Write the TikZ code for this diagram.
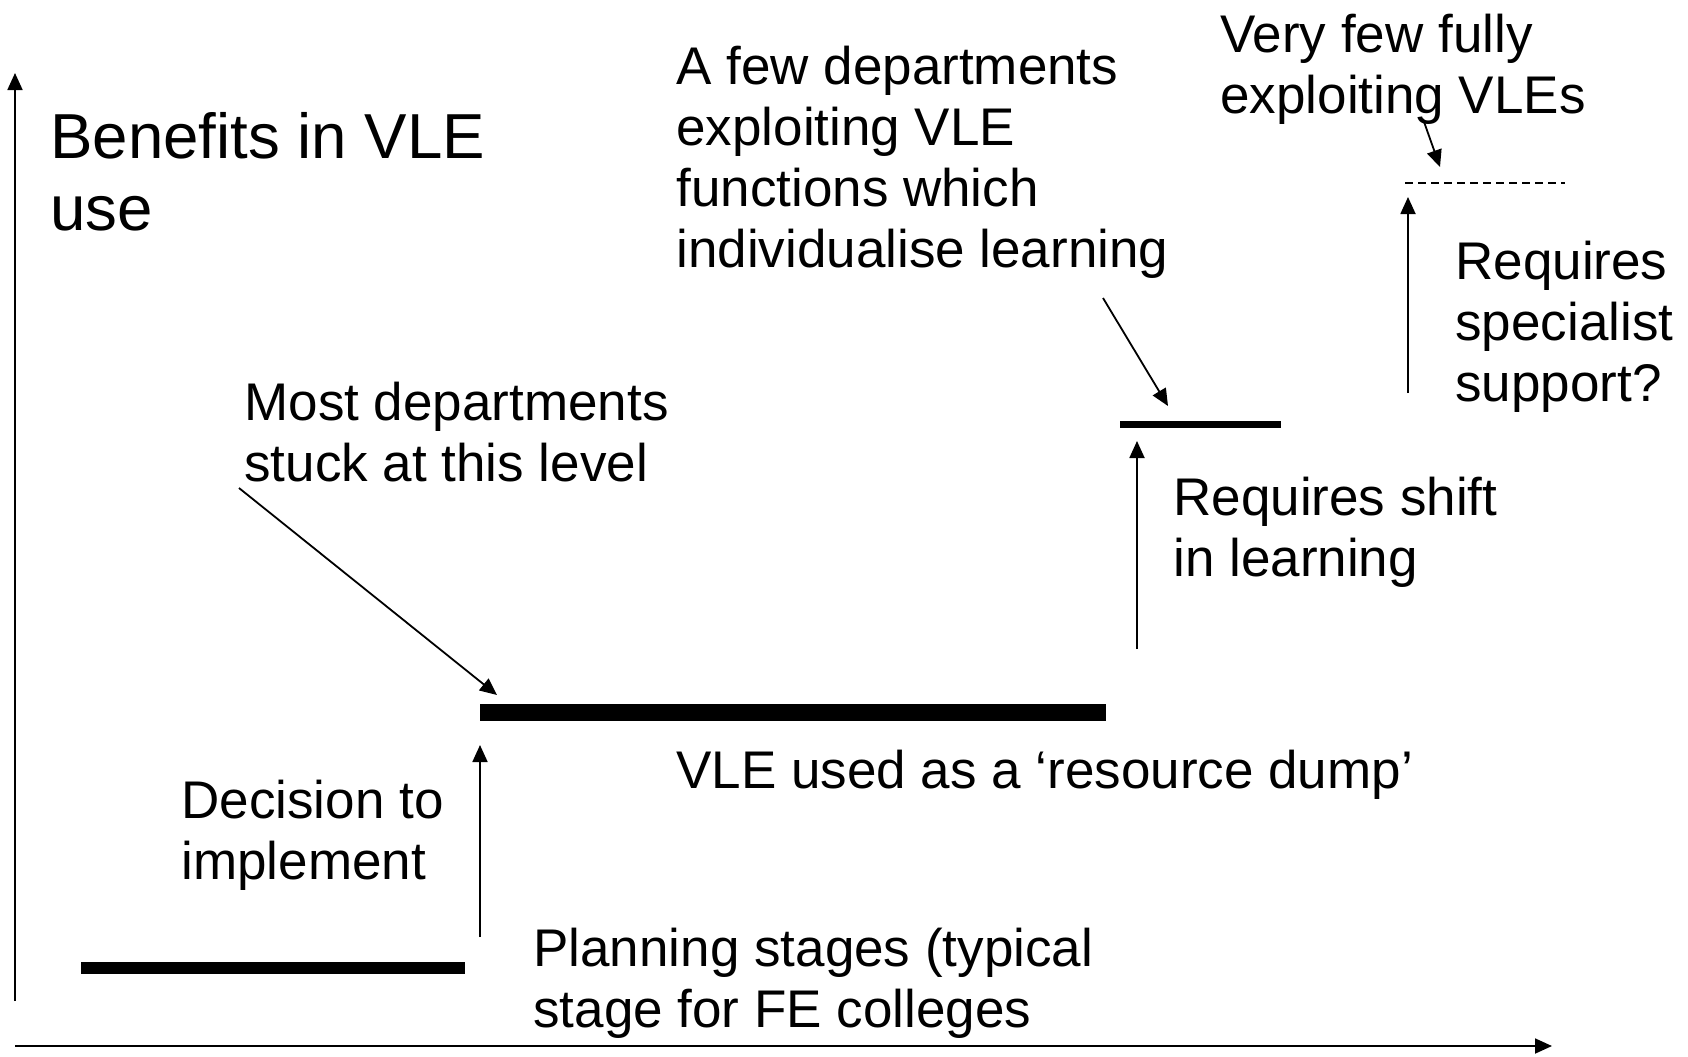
\documentclass[tikz,border=0pt]{standalone}
\usepackage{fontspec}
\setmainfont{Liberation Sans}
\usetikzlibrary{arrows.meta}

\begin{document}
\begin{tikzpicture}[x=0.5pt,y=-0.5pt]
\tikzstyle{note}=[anchor=base west,align=left,inner sep=0pt,font=\fontsize{26.5}{30.5}\selectfont]
\tikzstyle{heading}=[note,font=\fontsize{31.8}{36}\selectfont]
\tikzstyle{pointer}=[-{Triangle[length=8.5pt,width=7.5pt]},line width=0.9pt]
\tikzstyle{bar}=[line width=#1]
\useasboundingbox (0,0) rectangle (1688,1056);
% axes
\coordinate (y0) at (15,1001);
\coordinate (y1) at (15,73);
\coordinate (x0) at (15,1046);
\coordinate (x1) at (1552,1046);
\draw[pointer] (y0) -- (y1);
\draw[pointer] (x0) -- (x1);
% levels
\coordinate (plan-l) at (81,968);
\coordinate (plan-r) at (465,968);
\coordinate (dump-l) at (480,712);
\coordinate (dump-r) at (1106,712);
\coordinate (indiv-l) at (1120,424);
\coordinate (indiv-r) at (1281,424);
\coordinate (full-l) at (1405,183);
\coordinate (full-r) at (1565,183);
\draw[bar=6pt] (plan-l) -- (plan-r);
\draw[bar=8.5pt] (dump-l) -- (dump-r);
\draw[bar=3.5pt] (indiv-l) -- (indiv-r);
\draw[line width=0.9pt,dash pattern=on 4pt off 2.5pt] (full-l) -- (full-r);
% texts (placed at the baseline of their last line)
\node[heading] (benefit) at (50,230) {Benefits in VLE\\use};
\node[note] (most) at (244,481) {Most departments\\stuck at this level};
\node[note] (afew) at (676,267) {A few departments\\exploiting VLE\\functions which\\individualise learning};
\node[note] (veryfew) at (1220,113) {Very few fully\\exploiting VLEs};
\node[note] (special) at (1455,401) {Requires\\specialist\\support?};
\node[note] (shift) at (1173,576) {Requires shift\\in learning};
\node[note] (dump) at (676,788) {VLE used as a ‘resource dump’};
\node[note] (decide) at (181,879) {Decision to\\implement};
\node[note] (plan) at (533,1027) {Planning stages (typical\\stage for FE colleges};
% steps up
\coordinate (decide-a) at (480,937);
\coordinate (decide-b) at (480,745);
\coordinate (shift-a) at (1137,649);
\coordinate (shift-b) at (1137,441);
\coordinate (special-a) at (1408,393);
\coordinate (special-b) at (1408,197);
\draw[pointer] (decide-a) -- (decide-b);
\draw[pointer] (shift-a) -- (shift-b);
\draw[pointer] (special-a) -- (special-b);
% callouts
\coordinate (most-a) at (239,488);
\coordinate (most-b) at (497,695);
\coordinate (afew-a) at (1103,298);
\coordinate (afew-b) at (1168,406);
\coordinate (veryfew-a) at (1423,119);
\coordinate (veryfew-b) at (1440,167);
\draw[pointer] (most-a) -- (most-b);
\draw[pointer] (afew-a) -- (afew-b);
\draw[pointer] (veryfew-a) -- (veryfew-b);
\end{tikzpicture}
\end{document}
